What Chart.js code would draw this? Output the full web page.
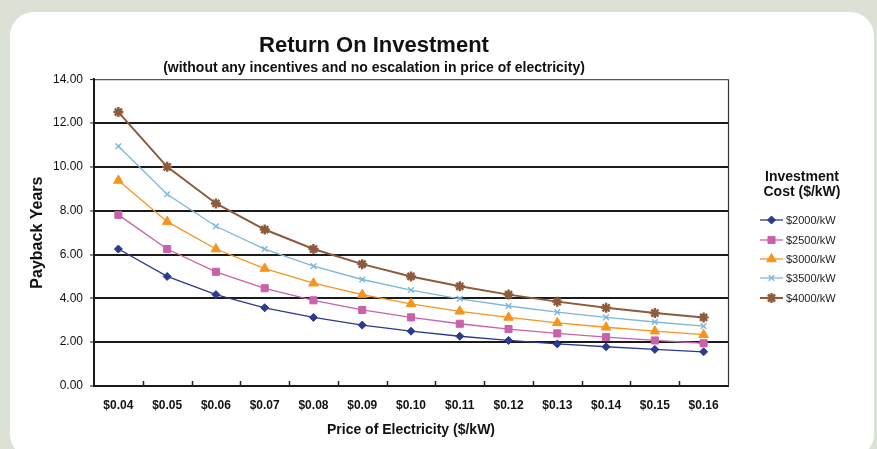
<!DOCTYPE html>
<html>
<head>
<meta charset="utf-8">
<script src="https://cdn.jsdelivr.net/npm/chart.js@4/dist/chart.umd.min.js"></script>
<style>
  html, body { margin: 0; padding: 0; }
  body { width: 877px; height: 449px; background: #dbe1d5; position: relative; overflow: hidden; }
  .panel { position: absolute; left: 10px; top: 12px; width: 864px; height: 446px; background: #fff; border-radius: 24px; }
  #wrap { position: absolute; left: 0; top: 0; width: 877px; height: 449px; }
</style>
</head>
<body>
<div class="panel"></div>
<div id="wrap"><canvas id="roiChart" width="877" height="449"></canvas></div>
<script>
// categories and series
const prices = ['$0.04', '$0.05', '$0.06', '$0.07', '$0.08', '$0.09', '$0.10', '$0.11', '$0.12', '$0.13', '$0.14', '$0.15', '$0.16'];
const cost2000 = [6.25, 5.00, 4.17, 3.57, 3.13, 2.78, 2.50, 2.27, 2.08, 1.92, 1.79, 1.67, 1.56];
const cost2500 = [7.81, 6.25, 5.21, 4.46, 3.91, 3.47, 3.13, 2.84, 2.60, 2.40, 2.23, 2.08, 1.95];
const cost3000 = [9.38, 7.50, 6.25, 5.36, 4.69, 4.17, 3.75, 3.41, 3.13, 2.88, 2.68, 2.50, 2.34];
const cost3500 = [10.94, 8.75, 7.29, 6.25, 5.47, 4.86, 4.38, 3.98, 3.65, 3.37, 3.13, 2.92, 2.73];
const cost4000 = [12.50, 10.00, 8.33, 7.14, 6.25, 5.56, 5.00, 4.55, 4.17, 3.85, 3.57, 3.33, 3.13];
const seriesLabels = ['$2000/kW', '$2500/kW', '$3000/kW', '$3500/kW', '$4000/kW'];
const yTicks = [0, 2, 4, 6, 8, 10, 12, 14];

const FONT = '"Liberation Sans", Arial, Helvetica, sans-serif';

const mk = (label, data, color, style, radius, lw, bw) => ({
    label: label,
    data: data,
    borderColor: color,
    backgroundColor: color,
    pointStyle: style,
    pointRadius: radius,
    pointHoverRadius: radius,
    pointBorderWidth: bw,
    borderWidth: lw,
    tension: 0
});

const datasets = [
    mk(seriesLabels[0], cost2000, '#2b3990', 'rectRot', 4, 1.3, 1),
    mk(seriesLabels[1], cost2500, '#c862a9', 'rect', 5, 1.3, 1),
    mk(seriesLabels[2], cost3000, '#f7941d', 'triangle', 5.5, 1.3, 1),
    mk(seriesLabels[3], cost3500, '#7fb7d8', 'crossRot', 4, 1.3, 1.4),
    mk(seriesLabels[4], cost4000, '#8c5b3b', 'star', 5, 2, 2.4)
];

// inward tick marks between categories + right frame line
const framePlugin = {
    id: 'frame',
    beforeDatasetsDraw(chart) {
        const { ctx, chartArea: a, scales: { x } } = chart;
        ctx.save();
        ctx.strokeStyle = '#222';
        ctx.lineWidth = 1.5;
        ctx.beginPath();
        for (let i = 1; i < prices.length; i++) {
            const px = Math.round((x.getPixelForTick(i - 1) + x.getPixelForTick(i)) / 2) + 0.5;
            ctx.moveTo(px, a.bottom);
            ctx.lineTo(px, a.bottom - 5);
        }
        ctx.stroke();
        ctx.lineWidth = 1.2;
        ctx.strokeStyle = '#333';
        ctx.beginPath();
        ctx.moveTo(a.right + 0.5, a.top);
        ctx.lineTo(a.right + 0.5, a.bottom);
        ctx.stroke();
        ctx.restore();
    }
};

// legend with a two-line title
const legendPlugin = {
    id: 'sideLegend',
    afterDraw(chart) {
        const c = chart.ctx;
        const rows = [220, 240, 259, 278, 298];
        c.save();
        c.fillStyle = '#111';
        c.font = 'bold 14px ' + FONT;
        c.textAlign = 'center';
        c.textBaseline = 'middle';
        c.fillText('Investment', 802, 177);
        c.fillText('Cost ($/kW)', 802, 192);
        chart.data.datasets.forEach((ds, i) => {
            const y = rows[i];
            c.strokeStyle = ds.borderColor;
            c.fillStyle = ds.backgroundColor;
            c.lineWidth = ds.borderWidth;
            c.beginPath();
            c.moveTo(760, y);
            c.lineTo(783, y);
            c.stroke();
            c.lineWidth = ds.pointBorderWidth;
            Chart.helpers.drawPoint(c, {
                pointStyle: ds.pointStyle,
                radius: ds.pointRadius,
                borderWidth: ds.pointBorderWidth,
                rotation: 0
            }, 771.5, y);
            c.fillStyle = '#222';
            c.font = '11px ' + FONT;
            c.textAlign = 'left';
            c.fillText(ds.label, 786, y + 0.5);
        });
        c.restore();
    }
};

const ctx = document.getElementById('roiChart').getContext('2d');
const chart = new Chart(ctx, {
    type: 'line',
    data: { labels: prices, datasets: datasets },
    plugins: [framePlugin, legendPlugin],
    options: {
        responsive: false,
        animation: false,
        layout: { padding: { left: 20, right: 149, top: 33, bottom: 10 } },
        plugins: {
            legend: { display: false },
            tooltip: { enabled: false },
            title: {
                display: true,
                text: 'Return On Investment',
                color: '#111',
                font: { family: FONT, size: 22, weight: 'bold' },
                padding: { top: 0, bottom: 0 }
            },
            subtitle: {
                display: true,
                text: '(without any incentives and no escalation in price of electricity)',
                color: '#111',
                font: { family: FONT, size: 14, weight: 'bold' },
                padding: { top: 0, bottom: 3 }
            }
        },
        scales: {
            x: {
                offset: true,
                grid: { display: false, drawTicks: false },
                border: { display: true, color: '#1a1a1a', width: 2 },
                ticks: { color: '#111', padding: 12, font: { family: FONT, size: 12, weight: 'bold' }, maxRotation: 0 },
                title: {
                    display: true,
                    text: 'Price of Electricity ($/kW)',
                    color: '#111',
                    font: { family: FONT, size: 14, weight: 'bold' },
                    padding: { top: 2, bottom: 0 }
                },
                afterFit: s => { s.height = 53; }
            },
            y: {
                min: 0,
                max: 14,
                afterBuildTicks: s => { s.ticks = yTicks.map(v => ({ value: v })); },
                grid: {
                    color: c => c.tick && c.tick.value === 14 ? '#555' : '#1a1a1a',
                    lineWidth: c => c.tick && c.tick.value === 14 ? 1.2 : 2,
                    tickLength: 4,
                    tickColor: '#1a1a1a',
                    tickWidth: 1
                },
                border: { display: true, color: '#1a1a1a', width: 2 },
                ticks: {
                    color: '#111',
                    padding: 7,
                    font: { family: FONT, size: 12 },
                    callback: v => Number(v).toFixed(2)
                },
                title: {
                    display: true,
                    text: 'Payback Years',
                    color: '#111',
                    font: { family: FONT, size: 16, weight: 'bold' },
                    padding: { top: 8, bottom: 6 }
                },
                afterFit: s => { s.width = 74; }
            }
        }
    }
});
</script>
</body>
</html>
